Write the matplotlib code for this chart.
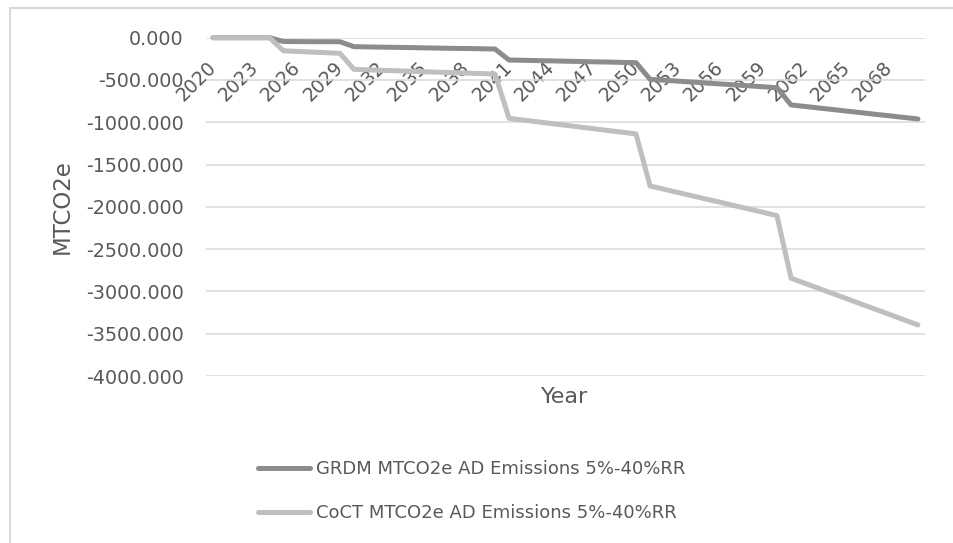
import matplotlib
matplotlib.use('Agg')
import matplotlib.pyplot as plt
from matplotlib.patches import Rectangle

# years on the category axis
years = list(range(2020, 2071))
tick_years = list(range(2020, 2069, 3))
y_ticks = [0, -500, -1000, -1500, -2000, -2500, -3000, -3500, -4000]

# values (MTCO2e)
grdm = [0, 0, 0, 0, 0,
        -45, -46, -47, -47, -48,
        -106, -109, -112, -114, -117, -120, -123, -126, -128, -131, -134,
        -264, -267, -271, -274, -278, -281, -285, -288, -292, -295,
        -492, -503, -514, -525, -536, -547, -558, -569, -580, -591,
        -795, -813, -832, -850, -869, -887, -906, -924, -943, -961]
coct = [0, 0, 0, 0, 0,
        -155, -162, -170, -177, -185,
        -374, -380, -386, -391, -397, -402, -408, -413, -419, -424, -430,
        -953, -974, -994, -1015, -1035, -1056, -1076, -1097, -1117, -1138,
        -1753, -1792, -1831, -1870, -1909, -1947, -1986, -2025, -2064, -2105,
        -2844, -2905, -2967, -3028, -3089, -3151, -3212, -3273, -3335, -3396]

labels = ['GRDM MTCO2e AD Emissions 5%-40%RR', 'CoCT MTCO2e AD Emissions 5%-40%RR']
text_col = '#595959'

fig = plt.figure(figsize=(9.54, 5.43), dpi=100)
ax = fig.add_axes([206 / 954, 1 - 376 / 543, 719 / 954, (376 - 37.7) / 543])

# outer chart border
fig.patches.append(Rectangle((10 / 954, -0.1), 1.0, 1.1 - 8 / 543, transform=fig.transFigure,
                             fill=False, edgecolor='#d9d9d9', linewidth=1.5))

ax.plot(years, grdm, color='#8c8c8c', linewidth=3.6, solid_capstyle='round', label=labels[0],
        clip_on=False, zorder=3)
ax.plot(years, coct, color='#bfbfbf', linewidth=3.6, solid_capstyle='round', label=labels[1],
        clip_on=False, zorder=4)

ax.set_xlim(2019.5, 2070.5)
ax.set_ylim(-4000, 0)
ax.set_yticks(y_ticks)
ax.set_yticklabels(['%.3f' % v for v in y_ticks])
ax.yaxis.grid(True, color='#d9d9d9', linewidth=1.1)
ax.set_axisbelow(True)

for s in ['left', 'right', 'top']:
    ax.spines[s].set_visible(False)
ax.spines['bottom'].set_position(('data', 0))
ax.spines['bottom'].set_visible(False)

ax.set_xticks(tick_years)
ax.set_xticklabels([str(y) for y in tick_years], rotation=45, ha='right', va='center',
                   rotation_mode='anchor')
ax.tick_params(axis='x', length=0, pad=19, labelsize=13.5, labelcolor=text_col)
ax.tick_params(axis='y', length=0, pad=16, labelsize=13.8, labelcolor=text_col)

fig.text(62 / 954, 1 - 207 / 543, 'MTCO2e', rotation=90, ha='center', va='center',
         fontsize=16.5, color=text_col)
fig.text(565 / 954, 1 - 397 / 543, 'Year', ha='center', va='center',
         fontsize=16, color=text_col)

fig.legend(loc='upper left', bbox_to_anchor=(258 / 954, 1 - 460 / 543), frameon=False,
           fontsize=13, handlelength=2.9, handletextpad=0.3, labelspacing=1.45,
           borderpad=0, borderaxespad=0, labelcolor=text_col)

fig.savefig('out.png', dpi=100, facecolor='white')
